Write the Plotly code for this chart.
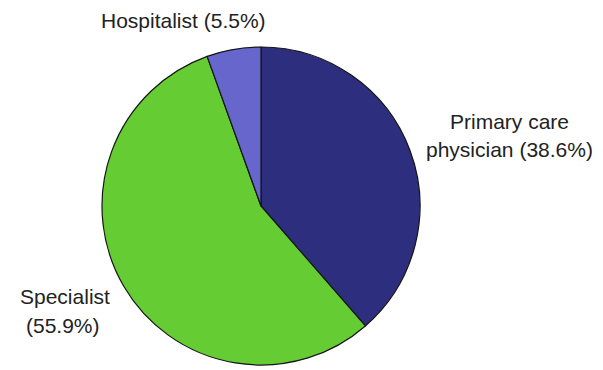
import plotly.graph_objects as go

# Share of respondents by physician type
categories = ["Primary care physician", "Specialist", "Hospitalist"]
shares = [38.6, 55.9, 5.5]
slice_colors = ["#2E2E7E", "#66CC33", "#6666CC"]

W, H = 603, 370
cx, cy, r = 261, 206, 159  # pie centre and radius in pixels

fig = go.Figure(
    go.Pie(
        labels=categories,
        values=shares,
        sort=False,
        direction="clockwise",
        rotation=0,
        textinfo="none",
        hoverinfo="label+percent",
        marker=dict(colors=slice_colors, line=dict(color="#151515", width=1.2)),
        domain=dict(
            x=[(cx - r) / W, (cx + r) / W],
            y=[(H - cy - r) / H, (H - cy + r) / H],
        ),
        showlegend=False,
    )
)

font = dict(family="Liberation Sans, Arial, sans-serif", size=21, color="#222222")

# Outside labels: (text, x centre px, y centre px)
label_lines = [
    (f"Hospitalist ({shares[2]}%)", 183, 20),
    ("Primary care", 509, 121),
    (f"physician ({shares[0]}%)", 509, 149),
    ("Specialist", 65, 296),
    (f"({shares[1]}%)", 63, 325),
]
for text, x, y in label_lines:
    fig.add_annotation(
        text=text, x=x / W, y=1 - y / H, xref="paper", yref="paper",
        xanchor="center", yanchor="middle", showarrow=False, font=font,
    )

fig.update_layout(
    width=W, height=H,
    margin=dict(l=0, r=0, t=0, b=0),
    paper_bgcolor="white", plot_bgcolor="white",
)

fig.write_html("out.html")
